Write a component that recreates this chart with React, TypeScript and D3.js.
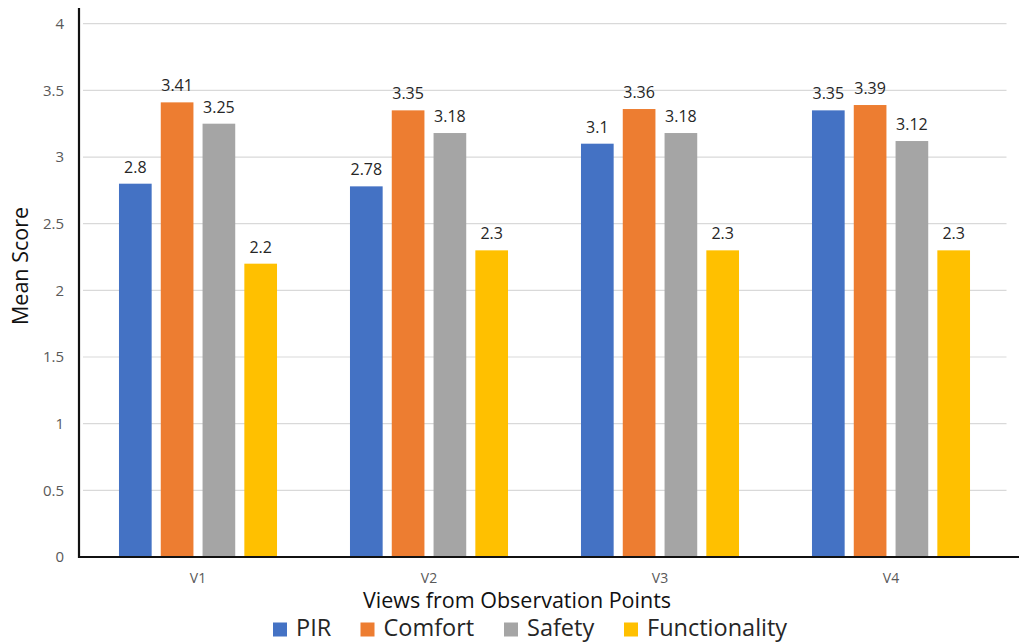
import React from "react";
import * as d3 from "d3";

// Views and series
const categories = ["V1", "V2", "V3", "V4"];
const seriesNames = ["PIR", "Comfort", "Safety", "Functionality"];
const pir = [2.8, 2.78, 3.1, 3.35];
const comfort = [3.41, 3.35, 3.36, 3.39];
const safety = [3.25, 3.18, 3.18, 3.12];
const functionality = [2.2, 2.3, 2.3, 2.3];
const yTicks = [0, 0.5, 1, 1.5, 2, 2.5, 3, 3.5, 4];

const seriesValues = [pir, comfort, safety, functionality];
const colors = ["#4472C4", "#ED7D31", "#A5A5A5", "#FFC000"];

const W = 1019;
const H = 642;
const FONT = "'Open Sans', 'Noto Sans', sans-serif";

export default function App() {
  const plotLeft = 82.5;
  const plotRight = 1006.5;
  const axisX = 79;

  const x0 = d3.scaleBand<string>().domain(categories).range([plotLeft, plotRight]).padding(0);
  const x1 = d3
    .scaleBand<string>()
    .domain(seriesNames)
    .range([0, x0.bandwidth()])
    .paddingInner(0.218)
    .paddingOuter(0.873);
  const y = d3.scaleLinear().domain([0, 4]).range([557, 23.7]);

  const fmt = (v: number) => String(v);

  // legend layout: swatch start positions
  const legendX = [273, 360.5, 504, 624];

  return (
    <svg
      width={W}
      height={H}
      style={{ position: "absolute", left: 0, top: 0, background: "#fff" }}
      fontFamily={FONT}
    >
      {/* gridlines */}
      {yTicks.slice(1).map((t) => (
        <line key={t} x1={axisX + 4} x2={plotRight} y1={y(t)} y2={y(t)} stroke="#d9d9d9" strokeWidth={1.2} />
      ))}
      {/* y tick labels */}
      {yTicks.map((t) => (
        <text key={t} x={64} y={y(t)} dy="0.35em" textAnchor="end" fontSize={15} fill="#595959">
          {fmt(t)}
        </text>
      ))}

      {/* bars with value labels */}
      {categories.map((c, ci) => (
        <g key={c} transform={`translate(${x0(c)},0)`}>
          {seriesNames.map((s, si) => {
            const v = seriesValues[si][ci];
            const bx = x1(s)!;
            return (
              <g key={s}>
                <rect x={bx} y={y(v)} width={x1.bandwidth()} height={y(0) - y(v)} fill={colors[si]} />
                <text
                  x={bx + x1.bandwidth() / 2}
                  y={y(v) - 11}
                  textAnchor="middle"
                  fontSize={16}
                  fill="#262626"
                >
                  {fmt(v)}
                </text>
              </g>
            );
          })}
        </g>
      ))}

      {/* axes */}
      <line x1={axisX} x2={axisX} y1={8} y2={y(0) + 1} stroke="#111" strokeWidth={2.2} />
      <line x1={axisX - 1} x2={W} y1={y(0)} y2={y(0)} stroke="#111" strokeWidth={2.2} />

      {/* category labels */}
      {categories.map((c) => (
        <text key={c} x={x0(c)! + x0.bandwidth() / 2} y={582.5} textAnchor="middle" fontSize={14} fill="#595959">
          {c}
        </text>
      ))}

      {/* axis titles */}
      <text x={517} y={607.5} textAnchor="middle" fontSize={21.5} fill="#111">
        Views from Observation Points
      </text>
      <text transform="translate(28,266) rotate(-90)" textAnchor="middle" fontSize={21.5} fill="#111">
        Mean Score
      </text>

      {/* legend */}
      {seriesNames.map((s, i) => (
        <g key={s} transform={`translate(${legendX[i]},0)`}>
          <rect x={0} y={622.5} width={14} height={14} fill={colors[i]} />
          <text x={23} y={636} fontSize={23.5} fill="#262626">
            {s}
          </text>
        </g>
      ))}
    </svg>
  );
}
